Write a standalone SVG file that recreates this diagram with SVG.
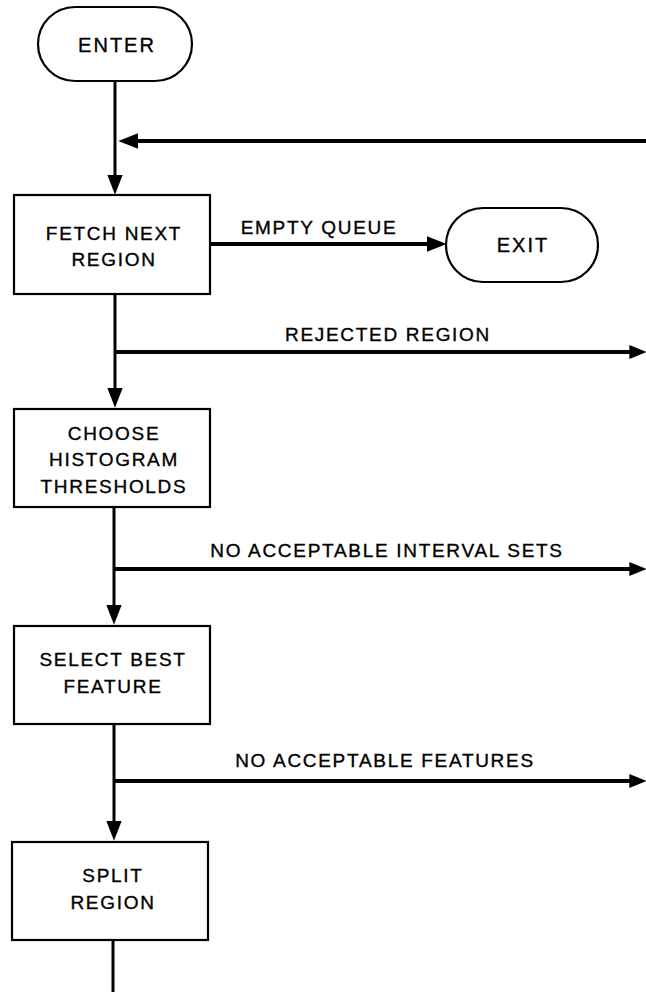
<svg xmlns="http://www.w3.org/2000/svg" width="646" height="992" viewBox="0 0 646 992">
<style>
.box{fill:#fff;stroke:#000;stroke-width:2.2}
.t{font-family:"Liberation Sans",Arial,Helvetica,sans-serif;font-size:19px;letter-spacing:1.7px;fill:#000;stroke:#000;stroke-width:0.35;text-anchor:middle}
.big{font-size:20px;letter-spacing:2px}
.v{fill:none;stroke:#000;stroke-width:3}
.h{fill:none;stroke:#000;stroke-width:4}
</style>
<defs>
<marker id="ah" markerUnits="userSpaceOnUse" markerWidth="20" markerHeight="16" viewBox="0 0 18 14" refX="12" refY="7" orient="auto">
<path d="M0,0 L18,7 L0,14 z" fill="#000"/>
</marker>
<marker id="ahs" markerUnits="userSpaceOnUse" markerWidth="18" markerHeight="14" viewBox="0 0 15 12" refX="10" refY="6" orient="auto">
<path d="M0,0 L15,6 L0,12 z" fill="#000"/>
</marker>
</defs>
<rect width="646" height="992" fill="#fff"/>
<g id="connectors">
<path class="v" d="M115,81 V188" marker-end="url(#ah)"/>
<path class="h" d="M646,141 H125" marker-end="url(#ah)"/>
<path class="h" d="M210,244 H440" marker-end="url(#ah)"/>
<path class="v" d="M115,294 V401" marker-end="url(#ah)"/>
<path class="h" d="M114,352 H641" marker-end="url(#ahs)"/>
<path class="v" d="M114,507 V618" marker-end="url(#ah)"/>
<path class="h" d="M113,569 H641" marker-end="url(#ahs)"/>
<path class="v" d="M114,724 V834" marker-end="url(#ah)"/>
<path class="h" d="M113,781 H641" marker-end="url(#ahs)"/>
<path class="v" d="M113,940 V992"/>
<text class="t" x="319" y="234">EMPTY QUEUE</text>
<text class="t" x="388" y="341">REJECTED REGION</text>
<text class="t" x="387" y="557">NO ACCEPTABLE INTERVAL SETS</text>
<text class="t" x="385" y="767">NO ACCEPTABLE FEATURES</text>
</g>
<g id="enter">
<rect class="box" x="38" y="7" width="154" height="74" rx="37" ry="37"/>
<text class="t big" x="117" y="52">ENTER</text>
</g>
<g id="fetch">
<rect class="box" x="14" y="195" width="196" height="99"/>
<text class="t" x="114" y="239.5">FETCH NEXT</text>
<text class="t" x="114" y="266">REGION</text>
</g>
<g id="exit">
<rect class="box" x="446" y="208" width="152" height="74" rx="37" ry="37"/>
<text class="t big" x="523" y="252">EXIT</text>
</g>
<g id="choose">
<rect class="box" x="14" y="409" width="196" height="98"/>
<text class="t" x="114" y="439.5">CHOOSE</text>
<text class="t" x="114" y="466">HISTOGRAM</text>
<text class="t" x="114" y="492.5">THRESHOLDS</text>
</g>
<g id="select">
<rect class="box" x="14" y="626" width="196" height="98"/>
<text class="t" x="113" y="665.5">SELECT BEST</text>
<text class="t" x="113" y="692.5">FEATURE</text>
</g>
<g id="split">
<rect class="box" x="12" y="842" width="196" height="98"/>
<text class="t" x="113" y="881.5">SPLIT</text>
<text class="t" x="113" y="908.5">REGION</text>
</g>
</svg>
